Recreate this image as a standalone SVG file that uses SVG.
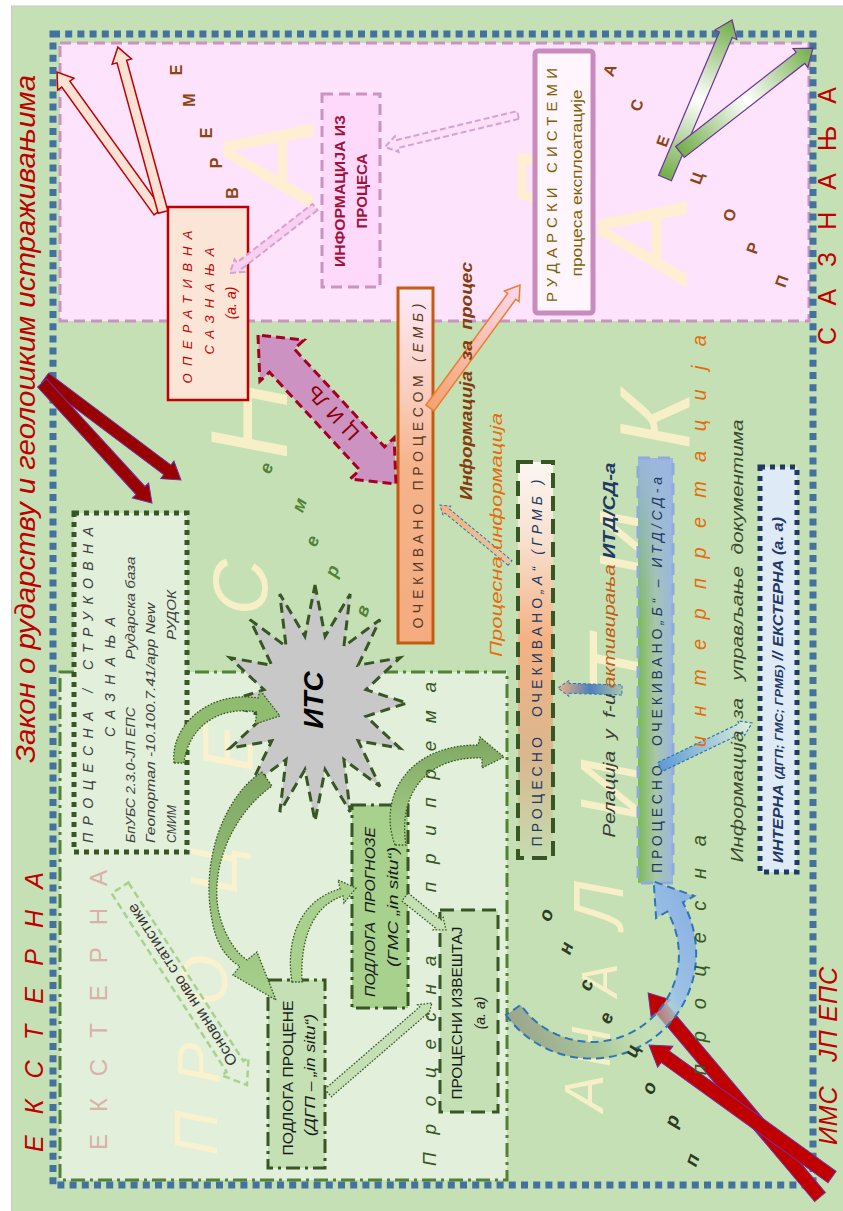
<svg xmlns="http://www.w3.org/2000/svg" width="843" height="1211" viewBox="0 0 843 1211">
<style>
text{font-family:"Liberation Sans","DejaVu Sans",sans-serif}
.it{font-style:italic}
.bg{font-style:italic;fill:#fff2cc;opacity:.85}
.red{fill:#c00000}
.gdot{stroke:#375623;stroke-width:1.3;stroke-dasharray:1.6 1.6}
.rot{text-anchor:middle}
</style>
<defs>
<linearGradient id="gOch" x1="0" y1="0" x2="0" y2="1"><stop offset="0" stop-color="#fdeaf9"/><stop offset=".3" stop-color="#f9cdbd"/><stop offset=".5" stop-color="#f5b48c"/><stop offset="1" stop-color="#f4ab80"/></linearGradient>
<linearGradient id="gA" x1="0" y1="0" x2="0" y2="1"><stop offset="0" stop-color="#fbf7f2"/><stop offset=".2" stop-color="#f8e0d0"/><stop offset=".45" stop-color="#f4b183"/><stop offset=".75" stop-color="#d8b88f"/><stop offset="1" stop-color="#c5dcb0"/></linearGradient>
<linearGradient id="gB" x1="0" y1="0" x2="1" y2="0"><stop offset="0" stop-color="#78bb52"/><stop offset=".5" stop-color="#a9c7a8"/><stop offset="1" stop-color="#9ab6e2"/></linearGradient>
<linearGradient id="gB2" x1="0" y1="0" x2="0" y2="1"><stop offset="0" stop-color="#9ab6e2" stop-opacity=".95"/><stop offset=".4" stop-color="#9ab6e2" stop-opacity="0"/></linearGradient>
<linearGradient id="gG" x1="0" y1="0" x2="1" y2="0"><stop offset="0" stop-color="#70ad47"/><stop offset=".5" stop-color="#ffffff"/><stop offset="1" stop-color="#70ad47"/></linearGradient>
<linearGradient id="gOr" x1="0" y1="0" x2="1" y2="0"><stop offset="0" stop-color="#f4a36f"/><stop offset="1" stop-color="#fbd8f2"/></linearGradient>
<linearGradient id="gPI" x1="0" y1="0" x2="1" y2="0"><stop offset="0" stop-color="#e6c7a0"/><stop offset="1" stop-color="#f4b183"/></linearGradient>
<linearGradient id="gRL" x1="0" y1="0" x2="1" y2="0"><stop offset="0" stop-color="#a9c7a8"/><stop offset=".5" stop-color="#4f81bd"/><stop offset="1" stop-color="#f4b183"/></linearGradient>
<linearGradient id="gIB" x1="0" y1="0" x2="1" y2="0"><stop offset="0" stop-color="#5b9bd5"/><stop offset="1" stop-color="#e2efda"/></linearGradient>
<linearGradient id="gArc" gradientUnits="userSpaceOnUse" x1="500" y1="1000" x2="690" y2="920"><stop offset="0" stop-color="#9aa58c"/><stop offset=".35" stop-color="#a9c79a"/><stop offset=".6" stop-color="#c5e0b4" stop-opacity=".3"/><stop offset=".8" stop-color="#9dc3e6"/><stop offset="1" stop-color="#8db3e2"/></linearGradient>
<linearGradient id="gGr" x1="0" y1="0" x2="0" y2="1"><stop offset="0" stop-color="#7ea862"/><stop offset="1" stop-color="#a9d18e"/></linearGradient>
</defs>

<!-- backgrounds -->
<rect x="0" y="0" width="843" height="1211" fill="#ffffff"/>
<rect x="11.5" y="6" width="832" height="1206" fill="#c5e0b4" stroke="#c8c8c8" stroke-width="1"/>
<rect x="60" y="43" width="749" height="278" fill="#fee3fc" stroke="#c994c0" stroke-width="3" stroke-dasharray="11 6"/>
<rect x="60" y="672" width="447" height="508" fill="#e2efda" stroke="#538135" stroke-width="3" stroke-dasharray="14 5 3 5"/>

<!-- big faded letters -->
<g id="bigletters">
<text class="bg rot" font-size="62" transform="translate(217 1133) rotate(-90)">П</text>
<text class="bg rot" font-size="62" transform="translate(220 1063) rotate(-90)">Р</text>
<text class="bg rot" font-size="66" transform="translate(227 980) rotate(-90)">О</text>
<text class="bg rot" font-size="66" transform="translate(237 870) rotate(-90)">Ц</text>
<text class="bg rot" font-size="72" transform="translate(253 748) rotate(-90)">Е</text>
<text class="bg rot" font-size="78" transform="translate(267 587) rotate(-90)">С</text>
<text class="bg rot" font-size="110" transform="translate(287 420) rotate(-90)">Н</text>
<text class="bg rot" font-size="130" transform="translate(313 160) rotate(-90)">А</text>
<text class="bg rot" font-size="56" transform="translate(603 1093) rotate(-90)">А</text>
<text class="bg rot" font-size="56" transform="translate(610 1047) rotate(-90)">Н</text>
<text class="bg rot" font-size="50" transform="translate(617 980) rotate(-90)">А</text>
<text class="bg rot" font-size="70" transform="translate(623 905) rotate(-90)">Л</text>
<text class="bg rot" font-size="85" transform="translate(640 790) rotate(-90)" opacity=".5">И</text>
<text class="bg rot" font-size="95" transform="translate(655 665) rotate(-90)" opacity=".5">Т</text>
<text class="bg rot" font-size="95" transform="translate(665 545) rotate(-90)" opacity=".45">И</text>
<text class="bg rot" font-size="100" transform="translate(690 420) rotate(-90)" opacity=".4">К</text>
<text class="bg rot" font-size="130" transform="translate(687 238) rotate(-90)">А</text>
<text class="bg rot" font-size="110" transform="translate(593 190) rotate(-90)" opacity=".35">Л</text>
</g>

<rect x="53" y="34" width="760" height="1151" fill="none" stroke="#44729f" stroke-width="7" stroke-dasharray="7 5.2"/>

<!-- frame titles -->
<g id="titles">
<text class="it red rot" font-size="28" textLength="688" lengthAdjust="spacingAndGlyphs" transform="translate(35 419) rotate(-90)">Закон о рударству и геолошким истраживањима</text>
<text class="it red rot" font-size="25" textLength="280" lengthAdjust="spacing" transform="translate(43 1012) rotate(-90)">ЕКСТЕРНА</text>
<text class="it red rot" font-size="25" textLength="178" lengthAdjust="spacing" transform="translate(837 1056) rotate(-90)" xml:space="preserve">ИМС   ЈП ЕПС</text>
<text class="red rot" font-size="25" textLength="258" lengthAdjust="spacing" transform="translate(836 216) rotate(-90)">САЗНАЊА</text>
<text class="rot" font-size="24" fill="#d8b1a7" textLength="280" lengthAdjust="spacing" transform="translate(107 1010) rotate(-90)">ЕКСТЕРНА</text>
</g>

<!-- nodes -->
<g id="operativna">
<rect x="168" y="207" width="80" height="193" fill="#fbe5d6" stroke="#c00000" stroke-width="2.5"/>
<text class="it red rot" font-size="13" textLength="153" lengthAdjust="spacing" transform="translate(192 307) rotate(-90)">ОПЕРАТИВНА</text>
<text class="it red rot" font-size="13" textLength="107" lengthAdjust="spacing" transform="translate(214 301) rotate(-90)">САЗНАЊА</text>
<text class="it red rot" font-size="14" transform="translate(236 303) rotate(-90)">(а. а)</text>
</g>

<g id="informacija">
<rect x="322" y="94" width="58" height="193" fill="#ffd9fb" stroke="#c994c0" stroke-width="3" stroke-dasharray="11 6"/>
<text class="rot" font-size="14" font-weight="bold" fill="#a0123a" textLength="152" lengthAdjust="spacingAndGlyphs" transform="translate(345 191) rotate(-90)">ИНФОРМАЦИЈА ИЗ</text>
<text class="rot" font-size="14" font-weight="bold" fill="#a0123a" textLength="75" lengthAdjust="spacingAndGlyphs" transform="translate(367 191) rotate(-90)">ПРОЦЕСА</text>
</g>

<g id="rudarski">
<rect x="535" y="51" width="58" height="262" rx="3" fill="#fff6fd" stroke="#c78bbd" stroke-width="5"/>
<text class="rot" font-size="15" fill="#7f6000" textLength="234" lengthAdjust="spacing" transform="translate(557 185) rotate(-90)">РУДАРСКИ СИСТЕМИ</text>
<text class="rot" font-size="15" fill="#7f6000" textLength="187" lengthAdjust="spacingAndGlyphs" transform="translate(582 183) rotate(-90)">процеса експлоатације</text>
</g>

<g id="ocekivano-procesom">
<rect x="398" y="288" width="35" height="355" fill="url(#gOch)" stroke="#c55a11" stroke-width="3"/>
<text class="rot" font-size="14" fill="#5a3825" textLength="325" lengthAdjust="spacing" transform="translate(423 466) rotate(-90)">ОЧЕКИВАНО ПРОЦЕСОМ <tspan class="it">(ЕМБ)</tspan></text>
</g>

<g id="strukovna">
<rect x="74" y="513" width="113" height="339" fill="#e2efda" stroke="#375623" stroke-width="5" stroke-dasharray="5 5"/>
<text class="it rot" font-size="14" fill="#404040" textLength="316" lengthAdjust="spacing" transform="translate(93 685) rotate(-90)">ПРОЦЕСНА / СТРУКОВНА</text>
<text class="it rot" font-size="14" fill="#404040" textLength="120" lengthAdjust="spacing" transform="translate(115 677) rotate(-90)">САЗНАЊА</text>
<text class="it rot" font-size="12.5" fill="#404040" textLength="136" lengthAdjust="spacingAndGlyphs" transform="translate(135 775) rotate(-90)">БпУБС 2.3.0-ЈП ЕПС</text>
<text class="it rot" font-size="12.5" fill="#404040" textLength="103" lengthAdjust="spacingAndGlyphs" transform="translate(135 608) rotate(-90)">Рударска база</text>
<text class="it rot" font-size="12.5" fill="#404040" textLength="240" lengthAdjust="spacingAndGlyphs" transform="translate(155 723) rotate(-90)">Геопортал -10.100.7.41/арр New</text>
<text class="it rot" font-size="12.5" fill="#404040" textLength="38" lengthAdjust="spacingAndGlyphs" transform="translate(176 824) rotate(-90)">СМИМ</text>
<text class="it rot" font-size="12.5" fill="#404040" textLength="50" lengthAdjust="spacingAndGlyphs" transform="translate(176 615) rotate(-90)">РУДОК</text>
</g>

<g id="its">
<polygon points="315,585 325.1,636.3 350.2,594 343.9,646.5 380,619.6 358.2,665.2 400,657.8 366,689.7 407,703 366,716.3 400,748.2 358.2,740.8 380,786.4 343.9,759.5 350.2,812 325.1,769.7 315,821 304.9,769.7 279.8,812 286.1,759.5 250,786.4 271.8,740.8 230,748.2 264,716.3 223,703 264,689.7 230,657.8 271.8,665.2 250,619.6 286.1,646.5 279.8,594 304.9,636.3" fill="#c8c8c8" stroke="#375623" stroke-width="3" stroke-dasharray="10 6"/>
<text class="it rot" font-size="28" font-weight="bold" fill="#000" transform="translate(323 700) rotate(-90)">ИТС</text>
</g>

<g id="prognoze">
<rect x="352" y="805" width="56" height="203" fill="#a9d18e" stroke="#375623" stroke-width="3" stroke-dasharray="14 5 3 5"/>
<text class="it rot" font-size="15" fill="#1a1a1a" textLength="170" lengthAdjust="spacingAndGlyphs" transform="translate(375 912) rotate(-90)" xml:space="preserve">ПОДЛОГА  ПРОГНОЗЕ</text>
<text class="it rot" font-size="15" fill="#1a1a1a" textLength="120" lengthAdjust="spacingAndGlyphs" transform="translate(398 907) rotate(-90)">(ГМС „in situ“)</text>
</g>

<g id="procene">
<rect x="268" y="980" width="57" height="188" fill="#c5e0b4" stroke="#375623" stroke-width="3" stroke-dasharray="14 5 3 5"/>
<text class="rot" font-size="15" fill="#1a1a1a" textLength="155" lengthAdjust="spacingAndGlyphs" transform="translate(293 1078) rotate(-90)">ПОДЛОГА ПРОЦЕНЕ</text>
<text class="it rot" font-size="15" fill="#1a1a1a" textLength="122" lengthAdjust="spacingAndGlyphs" transform="translate(315 1075) rotate(-90)">(ДГП – „in situ“)</text>
</g>

<g id="izvestaj">
<rect x="440" y="910" width="58" height="202" fill="#c5e0b4" stroke="#375623" stroke-width="3" stroke-dasharray="14 7"/>
<text class="rot" font-size="14" fill="#1a1a1a" textLength="173" lengthAdjust="spacingAndGlyphs" transform="translate(462 1013) rotate(-90)">ПРОЦЕСНИ ИЗВЕШТАЈ</text>
<text class="it rot" font-size="14" fill="#1a1a1a" transform="translate(485 1013) rotate(-90)">(а. а)</text>
</g>

<g id="ocekivano-a">
<rect x="518" y="462" width="35" height="396" fill="url(#gA)" stroke="#375623" stroke-width="4" stroke-dasharray="15 8"/>
<text class="rot" font-size="14" fill="#1f3864" textLength="367" lengthAdjust="spacing" transform="translate(542 663) rotate(-90)" xml:space="preserve">ПРОЦЕСНО  ОЧЕКИВАНО<tspan class="it">„А“ (ГРМБ )</tspan></text>
</g>

<g id="ocekivano-b">
<rect x="638" y="458" width="35" height="425" fill="url(#gB)"/>
<rect x="638" y="458" width="35" height="425" fill="url(#gB2)" stroke="#8faadc" stroke-width="3" stroke-dasharray="12 8"/>
<text class="rot" font-size="14" fill="#1f3864" textLength="396" lengthAdjust="spacing" transform="translate(662 675) rotate(-90)" xml:space="preserve">ПРОЦЕСНО  ОЧЕКИВАНО<tspan class="it">„Б“ – ИТД/СД-а</tspan></text>
</g>

<g id="interna">
<rect x="760" y="467" width="37" height="405" fill="#deebf7" stroke="#1f3864" stroke-width="5" stroke-dasharray="5 5"/>
<text class="it rot" font-size="14" font-weight="bold" fill="#1f3864" textLength="346" lengthAdjust="spacingAndGlyphs" transform="translate(783 690) rotate(-90)">ИНТЕРНА <tspan font-size="11">(ДГП; ГМС; ГРМБ)</tspan> // ЕКСТЕРНА (а. а)</text>
</g>

<!-- connectors -->
<g id="connectors">
<path d="M0,-5 H157.6 V-10 L172.6,0 L157.6,10 V5 H0 Z" transform="translate(158 212) rotate(-125.8)" fill="#fbe2d5" stroke="#c00000" stroke-width="1.5"/>
<path d="M0,-5 H156 V-10 L171,0 L156,10 V5 H0 Z" transform="translate(163 212) rotate(-105.3)" fill="#fbe2d5" stroke="#c00000" stroke-width="1.5"/>
<path d="M0,-6 H153 V-11 L170,0 L153,11 V6 H0 Z" transform="translate(45 378) rotate(36.9)" fill="#990000" stroke="#7030a0" stroke-width="1"/>
<path d="M0,-6 H145.8 V-11 L162.8,0 L145.8,11 V6 H0 Z" transform="translate(42 383) rotate(47.5)" fill="#990000" stroke="#7030a0" stroke-width="1"/>
<path d="M0,-7 H246.8 V-13 L266.8,0 L246.8,13 V7 H0 Z" transform="translate(820 1197) rotate(-130.1)" fill="#c00000" stroke="#7030a0" stroke-width="1"/>
<path d="M0,-7 H205.6 V-13 L225.6,0 L205.6,13 V7 H0 Z" transform="translate(832 1177) rotate(-144.2)" fill="#c00000" stroke="#7030a0" stroke-width="1"/>
<path d="M0,-7 H155.6 V-12 L171.6,0 L155.6,12 V7 H0 Z" transform="translate(665 178) rotate(-67)" fill="url(#gG)" stroke="#7030a0" stroke-width="1.2"/>
<path d="M0,-7 H152.8 V-12 L168.8,0 L152.8,12 V7 H0 Z" transform="translate(680 152) rotate(-38)" fill="url(#gG)" stroke="#7030a0" stroke-width="1.2"/>
<path d="M0,-5 H138.4 V-9 L152.4,0 L138.4,9 V5 H0 Z" transform="translate(430 408) rotate(-53.8)" fill="url(#gOr)" stroke="#ed7d31" stroke-width="1.5"/>
<path d="M0,-4 H95.6 V-8 L107.6,0 L95.6,8 V4 H0 Z" transform="translate(315 207) rotate(142.2)" fill="#f8d0f2" stroke="#d9a0d0" stroke-width="2" stroke-dasharray="6 3"/>
<path d="M0,-4 H124.8 V-8 L136.8,0 L124.8,8 V4 H0 Z" transform="translate(518 115) rotate(166.5)" fill="#fbe0f8" stroke="#d9a0d0" stroke-width="2" stroke-dasharray="6 3"/>
<path d="M0,-3 H81.9 V-6 L90.9,0 L81.9,6 V3 H0 Z" transform="translate(510 563) rotate(-140.4)" fill="url(#gPI)" stroke="#2e75b6" stroke-width="1" stroke-dasharray="3 2"/>
<path d="M0,-5 H53 V-8 L64,0 L53,8 V5 H0 Z" transform="translate(622 690) rotate(-178.2)" fill="url(#gRL)" stroke="#2e75b6" stroke-width="1" stroke-dasharray="3 2"/>
<path d="M0,-5 H90 V-8 L102,0 L90,8 V5 H0 Z" transform="translate(660 767) rotate(-25.6)" fill="url(#gIB)" stroke="#2e75b6" stroke-width="1.2" stroke-dasharray="3 2"/>
<path d="M0,-5 H42.6 V-8 L52.6,0 L42.6,8 V5 H0 Z" transform="translate(405 897) rotate(38.8)" fill="#c5e0b4" class="gdot"/>
<path d="M0,-5 H125.5 V-8 L137.5,0 L125.5,8 V5 H0 Z" transform="translate(328 1093) rotate(-40.9)" fill="#c5e0b4" class="gdot"/>
<!-- curved green arrows -->
<path d="M 262 772 C 225 795, 200 860, 212 920 C 216 945, 228 960, 240 966 L 233 975 L 276 1000 L 257 952 L 247 960 C 232 950, 219 925, 217 900 C 214 855, 238 810, 272 786 Z" fill="url(#gGr)" class="gdot"/>
<path d="M 174 763 C 170 725, 210 690, 258 698 L 260 690 L 280 716 L 255 724 L 257 712 C 218 705, 188 728, 184 763 Z" fill="#8fbc6f" class="gdot"/>
<path d="M 292 982 C 285 940, 300 900, 340 889 L 338 880 L 356 888 L 344 903 L 343 896 C 312 906, 300 940, 302 982 Z" fill="#a9d18e" class="gdot"/>
<path d="M 395 845 C 378 800, 405 745, 478 745 L 480 737 L 504 757 L 482 768 L 482 758 C 425 756, 398 795, 406 845 Z" fill="url(#gGr)" class="gdot"/>
<!-- processno circular arrow -->
<path d="M 506 1015 A 105 105 0 0 0 682.9 902.5 L 694.2 896 L 653.7 881.5 L 656.1 918 L 667.3 911.5 A 87 87 0 0 1 520.7 1004.9 Z" fill="url(#gArc)" stroke="#2e75b6" stroke-width="2" stroke-dasharray="8 5"/>
<!-- CIL double arrow -->
<polygon points="258,335 259.9,381.1 269.5,372.2 359.7,470 350.1,478.9 396,484 394.1,437.9 384.5,446.8 294.3,349 303.9,340.1" fill="#cc92c2" stroke="#a50021" stroke-width="3" stroke-dasharray="9 5"/>
<text class="rot" font-size="20" fill="#8b0000" letter-spacing="8" transform="translate(330 410) rotate(-133) translate(0 7)">ЦИЉ</text>
<!-- osnovni nivo statistike -->
<g transform="translate(120 888) rotate(57.2)">
<path d="M0,-10 H212.4 V-16 L234.4,0 L212.4,16 V10 H0 Z" fill="none" stroke="#a9d18e" stroke-width="2.5" stroke-dasharray="7 4"/>
<text class="rot" font-size="15" fill="#333" textLength="190" lengthAdjust="spacingAndGlyphs" transform="translate(115 0) rotate(180) translate(0 5)">Основни ниво статистике</text>
</g>
</g>

<!-- free labels -->
<g id="labels">
<text class="it rot" font-size="17" font-weight="bold" fill="#843c0c" textLength="238" lengthAdjust="spacingAndGlyphs" transform="translate(472 381) rotate(-90)" xml:space="preserve">Информација  за  процес</text>
<text class="it rot" font-size="17" fill="#e46c0a" textLength="244" lengthAdjust="spacingAndGlyphs" transform="translate(502 535) rotate(-90)">Процесна информација</text>
<text class="it rot" font-size="17" fill="#3a3a3a" textLength="375" lengthAdjust="spacingAndGlyphs" transform="translate(615 650) rotate(-90)" xml:space="preserve">Релација  у  f-u <tspan fill="#c55a11">активирања </tspan><tspan font-weight="bold" fill="#1f3864">ИТД/СД-а</tspan></text>
<text class="it rot" font-size="17" fill="#3b4a30" textLength="443" lengthAdjust="spacingAndGlyphs" transform="translate(743 641) rotate(-90)" xml:space="preserve">Информација  за   управљање  документима</text>
<text class="it rot" font-size="19" fill="#375623" textLength="484" lengthAdjust="spacing" transform="translate(436 924) rotate(-90)" xml:space="preserve">Процесна  припрема</text>
<text class="it rot" font-size="20" fill="#375623" textLength="240" lengthAdjust="spacing" transform="translate(706 955) rotate(-90)">процесна</text>
<text class="it rot" font-size="20" fill="#e46c0a" textLength="412" lengthAdjust="spacing" transform="translate(706 541) rotate(-90)">интерпретација</text>
</g>

<g id="letters">
<g font-size="16" font-weight="bold" fill="#8b4513" class="rot">
<text transform="translate(238 193) rotate(-90)">В</text>
<text transform="translate(222 163) rotate(-90)">Р</text>
<text transform="translate(212 133) rotate(-90)">Е</text>
<text transform="translate(195 100) rotate(-90)">М</text>
<text transform="translate(182 70) rotate(-90)">Е</text>
<text transform="translate(787 283) rotate(-70)">П</text>
<text transform="translate(758 250) rotate(-70)">Р</text>
<text transform="translate(735 217) rotate(-70)">О</text>
<text transform="translate(702 180) rotate(-70)">Ц</text>
<text transform="translate(668 143) rotate(-70)">Е</text>
<text transform="translate(642 107) rotate(-70)">С</text>
<text transform="translate(615 72) rotate(-70)">А</text>
</g>
<g font-size="18" font-weight="bold" fill="#538135" class="it rot">
<text transform="translate(272 470) rotate(-70)">е</text>
<text transform="translate(305 507) rotate(-70)">м</text>
<text transform="translate(318 543) rotate(-70)">е</text>
<text transform="translate(338 573) rotate(-70)">р</text>
<text transform="translate(368 613) rotate(-70)">в</text>
</g>
<g font-size="19" font-weight="bold" fill="#2d3b22" class="it rot">
<text transform="translate(698 1162) rotate(-70)">п</text>
<text transform="translate(678 1123) rotate(-70)">р</text>
<text transform="translate(655 1090) rotate(-70)">о</text>
<text transform="translate(638 1053) rotate(-70)">ц</text>
<text transform="translate(612 1020) rotate(-70)">е</text>
<text transform="translate(592 987) rotate(-70)">с</text>
<text transform="translate(572 950) rotate(-70)">н</text>
<text transform="translate(552 917) rotate(-70)">о</text>
</g>
</g>
</svg>
